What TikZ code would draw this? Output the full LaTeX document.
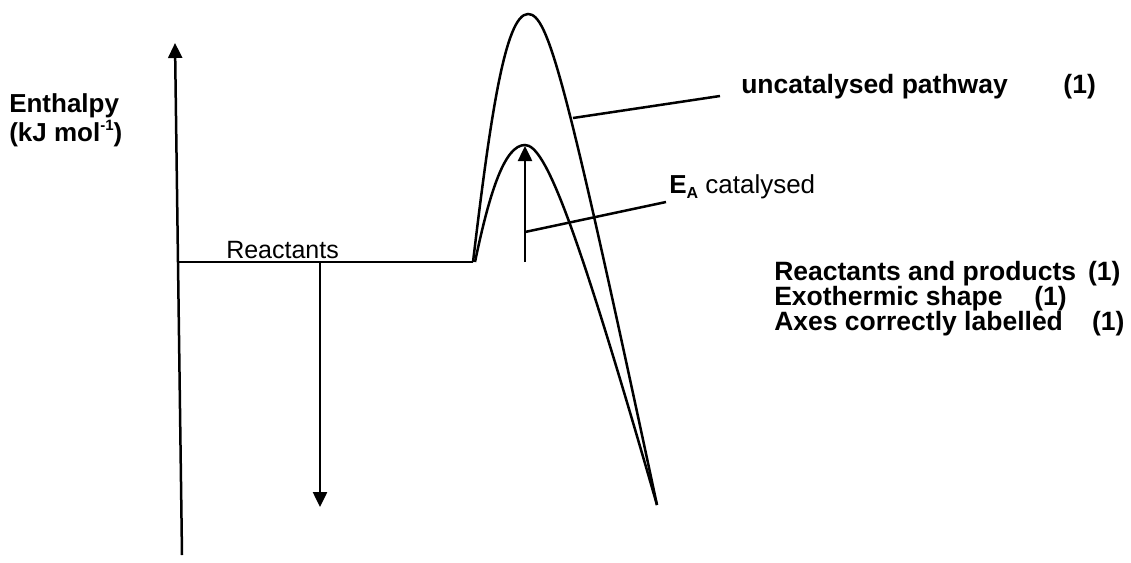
\documentclass[tikz,border=0pt]{standalone}
\usepackage{fontspec}
\setmainfont{Liberation Sans}
\usetikzlibrary{arrows.meta}
\begin{document}
\begin{tikzpicture}[x=1pt,y=-1pt, line width=2.5pt,
  tip/.style={-{Triangle[length=15pt,width=14pt]}},
  lbl/.style={font=\fontsize{26.5}{31}\selectfont\bfseries, anchor=base west, inner sep=0pt},
  reg/.style={font=\fontsize{26}{30}\selectfont, anchor=base west, inner sep=0pt}]
\useasboundingbox (0,0) rectangle (1131,562);
% axis
\coordinate (axb) at (182,555);
\coordinate (axt) at (175,43);
\draw[tip] (axb) -- (axt);
% reactants level
\coordinate (r0) at (177,262);
\coordinate (r1) at (473,262);
\draw (r0) -- (r1);
% enthalpy change arrow
\coordinate (dh0) at (320,262);
\coordinate (dh1) at (320,507);
\draw[tip] (dh0) -- (dh1);
% pathways
\coordinate (pk1) at (528,14);
\coordinate (pk2) at (525,145);
\coordinate (c0) at (475,262);
\coordinate (pe) at (657,505);
\draw (r1) .. controls (490,120) and (505,14) .. (pk1) .. controls (548,14) and (565,75) .. (pe);
\draw (c0) .. controls (490,190) and (505,145) .. (pk2) .. controls (545,145) and (575,220) .. (pe);
% activation energy arrow
\coordinate (ea0) at (525,262);
\coordinate (ea1) at (525,146);
\draw[tip] (ea0) -- (ea1);
% labels
\node[lbl, font=\fontsize{26}{30}\selectfont\bfseries] (enth) at (8,112) {Enthalpy};
\node[lbl, font=\fontsize{26}{30}\selectfont\bfseries] (unit) at (8,141) {(kJ mol\raisebox{0.42em}{\fontsize{15}{15}\selectfont -1})};
\node[lbl] (unc) at (740,93) {uncatalysed pathway\hspace{2.1em}(1)};
\node[reg] (ea) at (668,193) {\textbf{E\raisebox{-0.2em}{\fontsize{16}{16}\selectfont A}} catalysed};
\node[reg, font=\fontsize{25}{29}\selectfont] (reac) at (225,258) {Reactants};
\node[lbl] (m1) at (773,280) {Reactants and products\hspace{0.45em}(1)};
\node[lbl] (m2) at (773,305) {Exothermic shape\hspace{1.2em}(1)};
\node[lbl] (m3) at (773,330) {Axes correctly labelled\hspace{1.1em}(1)};
% leader lines
\coordinate (l1a) at (573,118);
\coordinate (l1b) at (720,96);
\coordinate (l2a) at (525,232);
\coordinate (l2b) at (666,202);
\draw (l1a) -- (l1b);
\draw (l2a) -- (l2b);
\end{tikzpicture}
\end{document}
